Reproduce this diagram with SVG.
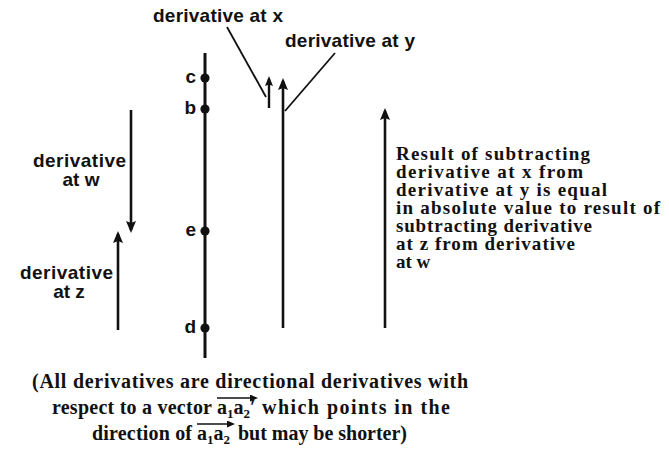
<svg xmlns="http://www.w3.org/2000/svg" width="669" height="455" viewBox="0 0 669 455">
<style>
.lbl{font-family:"Liberation Sans",Arial,sans-serif;font-weight:bold;font-size:19px;fill:#111}
.blk{font-family:"Liberation Serif","Times New Roman",serif;font-weight:bold;font-size:19px;fill:#111}
.ft{font-family:"Liberation Serif","Times New Roman",serif;font-weight:bold;font-size:20px;fill:#111}
.sub{font-size:13px}
.axis{stroke:#111;stroke-width:3;fill:none}
.arr{stroke:#111;stroke-width:2.6;fill:none;marker-end:url(#head)}
.arrs{stroke:#111;stroke-width:2.4;fill:none;marker-end:url(#heads)}
.lead{stroke:#111;stroke-width:1.8;fill:none}
.vec{stroke:#111;stroke-width:1.6;fill:none;marker-end:url(#vhead)}
.dot{fill:#111}
</style>
<defs>
<marker id="head" viewBox="0 0 12 10" refX="9" refY="5" markerWidth="12" markerHeight="10" markerUnits="userSpaceOnUse" orient="auto"><path d="M0,0 L12,5 L0,10 L2,5 z" fill="#111"/></marker>
<marker id="heads" viewBox="0 0 10 8" refX="7" refY="4" markerWidth="10" markerHeight="8" markerUnits="userSpaceOnUse" orient="auto"><path d="M0,0 L10,4 L0,8 L1.5,4 z" fill="#111"/></marker>
<marker id="vhead" viewBox="0 0 8 7" refX="6" refY="3.5" markerWidth="8" markerHeight="7" markerUnits="userSpaceOnUse" orient="auto"><path d="M0,0 L8,3.5 L0,7 z" fill="#111"/></marker>
</defs>
<rect width="669" height="455" fill="#fff"/>

<g id="axis"><line class="axis" x1="205" y1="53" x2="205" y2="358"/></g>
<g id="point-c"><circle class="dot" cx="205" cy="78" r="4.6"/><text class="lbl" x="196" y="83" text-anchor="end">c</text></g>
<g id="point-b"><circle class="dot" cx="205" cy="109" r="4.6"/><text class="lbl" x="196" y="114" text-anchor="end">b</text></g>
<g id="point-e"><circle class="dot" cx="205" cy="231" r="4.6"/><text class="lbl" x="196" y="236" text-anchor="end">e</text></g>
<g id="point-d"><circle class="dot" cx="205" cy="328" r="4.6"/><text class="lbl" x="196" y="333" text-anchor="end">d</text></g>

<g id="connectors">
<line class="arr" x1="131" y1="110" x2="131" y2="230"/>
<line class="arr" x1="118" y1="330" x2="118" y2="234"/>
<line class="arrs" x1="269" y1="108" x2="269" y2="79"/>
<line class="arr" x1="283" y1="328" x2="283" y2="81"/>
<line class="arr" x1="385" y1="328" x2="385" y2="111"/>
<line class="lead" x1="227" y1="27" x2="266" y2="97"/>
<line class="lead" x1="335" y1="53" x2="285" y2="111"/>
</g>

<g id="label-x"><text class="lbl" x="153" y="22" textLength="130" lengthAdjust="spacing">derivative at x</text></g>
<g id="label-y"><text class="lbl" x="285" y="47" textLength="130" lengthAdjust="spacing">derivative at y</text></g>
<g id="label-w"><text class="lbl" x="33" y="167" textLength="93" lengthAdjust="spacing">derivative</text><text class="lbl" x="81" y="186" text-anchor="middle">at w</text></g>
<g id="label-z"><text class="lbl" x="20" y="279" textLength="93" lengthAdjust="spacing">derivative</text><text class="lbl" x="69" y="298" text-anchor="middle">at z</text></g>

<g id="result-note">
<text class="blk" x="396" y="160" textLength="194" lengthAdjust="spacing">Result of subtracting</text>
<text class="blk" x="396" y="178" textLength="187" lengthAdjust="spacing">derivative at x from</text>
<text class="blk" x="396" y="196" textLength="211" lengthAdjust="spacing">derivative at y is equal</text>
<text class="blk" x="396" y="214" textLength="264" lengthAdjust="spacing">in absolute value to result of</text>
<text class="blk" x="396" y="232" textLength="196" lengthAdjust="spacing">subtracting derivative</text>
<text class="blk" x="396" y="250" textLength="179" lengthAdjust="spacing">at z from derivative</text>
<text class="blk" x="396" y="268">at w</text>
</g>

<g id="footnote">
<text class="ft" x="32" y="388" textLength="436" lengthAdjust="spacing">(All derivatives are directional derivatives with</text>
<text class="ft" x="52" y="414" textLength="160" lengthAdjust="spacing">respect to a vector</text>
<text class="ft" x="217" y="414">a<tspan class="sub" dy="4">1</tspan><tspan dy="-4">a</tspan><tspan class="sub" dy="4">2</tspan><tspan dy="-4">′</tspan></text>
<text class="ft" x="262" y="414" textLength="188" lengthAdjust="spacing">which points in the</text>
<line class="vec" x1="217" y1="398" x2="256" y2="398"/>
<text class="ft" x="92" y="440" textLength="100" lengthAdjust="spacing">direction of</text>
<text class="ft" x="197" y="440">a<tspan class="sub" dy="4">1</tspan><tspan dy="-4">a</tspan><tspan class="sub" dy="4">2</tspan></text>
<text class="ft" x="238" y="440" textLength="169" lengthAdjust="spacing">but may be shorter)</text>
<line class="vec" x1="197" y1="424" x2="233" y2="424"/>
</g>
</svg>
